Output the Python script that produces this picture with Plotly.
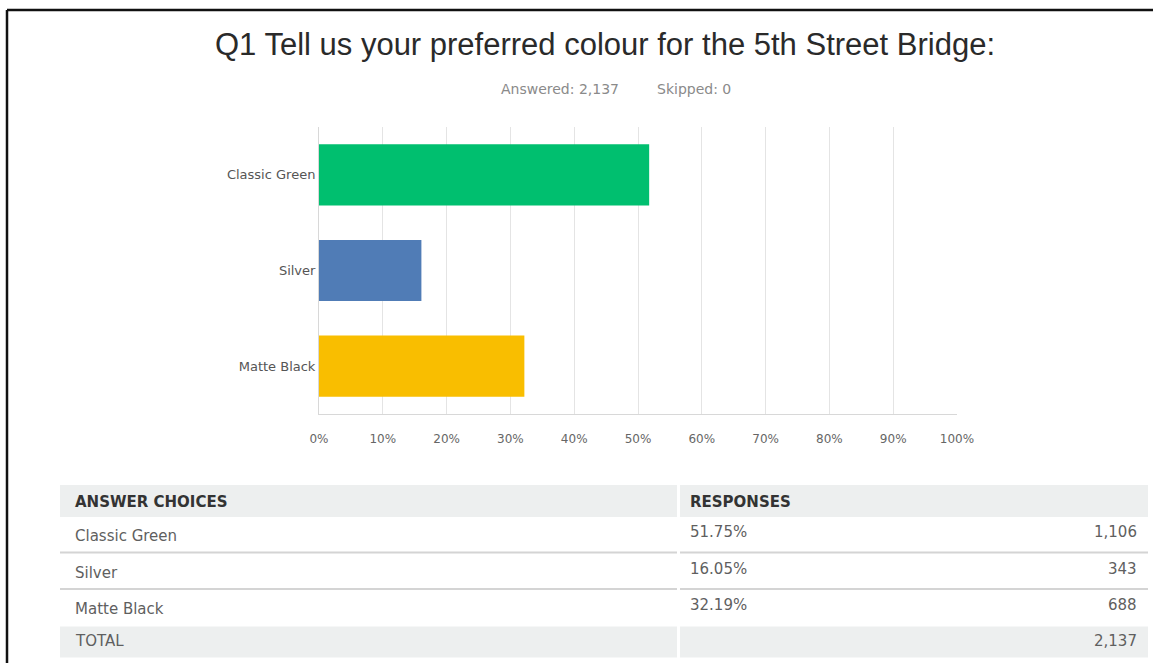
import plotly.graph_objects as go

# ---------------- data ----------------
title_text = "Q1 Tell us your preferred colour for the 5th Street Bridge:"
answered = 2137
skipped = 0
choices = ["Classic Green", "Silver", "Matte Black"]
percents = [51.75, 16.05, 32.19]
counts = [1106, 343, 688]
total = 2137
bar_colors = ["#00bf6f", "#507cb6", "#f9be00"]
x_ticks = [0, 10, 20, 30, 40, 50, 60, 70, 80, 90, 100]
x_tick_labels = [f"{v}%" for v in x_ticks]
table_headers = ["ANSWER CHOICES", "RESPONSES"]
total_label = "TOTAL"

# ---------------- geometry helpers (pixels -> paper) ----------------
W, H = 1153, 663


def px(x):
    return x / W


def py(y):
    return 1 - y / H


FONT = "Liberation Sans, Arial, sans-serif"
SMALL = "DejaVu Sans, sans-serif"

fig = go.Figure(
    go.Bar(
        x=percents,
        y=choices,
        orientation="h",
        width=0.64,
        marker=dict(color=bar_colors, line=dict(width=0)),
        hovertemplate="%{y}: %{x:.2f}%<extra></extra>",
    )
)

fig.update_layout(
    width=W,
    height=H,
    autosize=False,
    margin=dict(l=0, r=0, t=0, b=0),
    paper_bgcolor="white",
    plot_bgcolor="white",
    showlegend=False,
    xaxis=dict(
        domain=[px(319), px(957)],
        range=[0, 100],
        tickmode="array",
        tickvals=x_ticks,
        ticktext=x_tick_labels,
        showgrid=True,
        gridcolor="#e4e4e4",
        gridwidth=1,
        zeroline=False,
        showline=True,
        linecolor="#d8d8d8",
        linewidth=1,
        ticks="",
        ticklabelstandoff=14,
        tickfont=dict(family=SMALL, size=12, color="#666666"),
        automargin=False,
        fixedrange=True,
    ),
    yaxis=dict(
        domain=[py(414), py(127)],
        categoryorder="array",
        categoryarray=choices,
        range=[2.5, -0.5],
        showgrid=False,
        zeroline=False,
        showline=True,
        linecolor="#d8d8d8",
        linewidth=1,
        ticks="",
        ticklabelstandoff=0,
        tickfont=dict(family=SMALL, size=13, color="#555555"),
        automargin=False,
        fixedrange=True,
    ),
)

annotations = []
shapes = []

# title and subtitle
annotations.append(dict(
    text=title_text, x=px(605), y=py(45), xref="paper", yref="paper",
    xanchor="center", yanchor="middle", showarrow=False,
    font=dict(family=FONT, size=31, color="#2a2a2a"),
))
annotations.append(dict(
    text=f"Answered: {answered:,}", x=px(560), y=py(89), xref="paper", yref="paper",
    xanchor="center", yanchor="middle", showarrow=False,
    font=dict(family=SMALL, size=14, color="#8a8a8a"),
))
annotations.append(dict(
    text=f"Skipped: {skipped}", x=px(694), y=py(89), xref="paper", yref="paper",
    xanchor="center", yanchor="middle", showarrow=False,
    font=dict(family=SMALL, size=14, color="#8a8a8a"),
))

# ---------------- table ----------------
T_LEFT, T_SPLIT_L, T_SPLIT_R, T_RIGHT = 60, 677, 680, 1148
HEAD_TOP, HEAD_H, ROW_H, TOTAL_H = 485, 32, 36.5, 31
GRAY = "#edefef"
TXT = "#5f5f5f"
TSIZE = 15


def rect(x0, y0, x1, y1, color):
    return dict(type="rect", xref="paper", yref="paper",
                x0=px(x0), x1=px(x1), y0=py(y1), y1=py(y0),
                fillcolor=color, line=dict(width=0), layer="below")


def hline(y, color, width):
    out = []
    for a, b in [(T_LEFT, T_SPLIT_L), (T_SPLIT_R, T_RIGHT)]:
        out.append(dict(type="line", xref="paper", yref="paper",
                        x0=px(a), x1=px(b), y0=py(y), y1=py(y),
                        line=dict(color=color, width=width)))
    return out


# header
shapes.append(rect(T_LEFT, HEAD_TOP, T_SPLIT_L, HEAD_TOP + HEAD_H, GRAY))
shapes.append(rect(T_SPLIT_R, HEAD_TOP, T_RIGHT, HEAD_TOP + HEAD_H, GRAY))
for txt, xx in zip(table_headers, [73, 688]):
    annotations.append(dict(
        text=f"<b>{txt}</b>", x=px(xx), y=py(HEAD_TOP + HEAD_H / 2 + 0.5),
        xref="paper", yref="paper", xanchor="left", yanchor="middle",
        showarrow=False, font=dict(family=SMALL, size=TSIZE, color="#333333"),
    ))

# data rows
body_top = HEAD_TOP + HEAD_H
for i, (name, pct, cnt) in enumerate(zip(choices, percents, counts)):
    top = body_top + i * ROW_H
    annotations.append(dict(
        text=name, x=px(73), y=py(top + 19), xref="paper", yref="paper",
        xanchor="left", yanchor="middle", showarrow=False,
        font=dict(family=SMALL, size=TSIZE, color=TXT),
    ))
    annotations.append(dict(
        text=f"{pct:.2f}%", x=px(688), y=py(top + 15), xref="paper", yref="paper",
        xanchor="left", yanchor="middle", showarrow=False,
        font=dict(family=SMALL, size=TSIZE, color=TXT),
    ))
    annotations.append(dict(
        text=f"{cnt:,}", x=px(1139), y=py(top + 15), xref="paper", yref="paper",
        xanchor="right", yanchor="middle", showarrow=False,
        font=dict(family=SMALL, size=TSIZE, color=TXT),
    ))
    if i < len(choices) - 1:
        shapes.extend(hline(top + ROW_H - 1, "#d4d4d4", 2))

# total row
total_top = body_top + len(choices) * ROW_H
shapes.append(rect(T_LEFT, total_top, T_SPLIT_L, total_top + TOTAL_H, GRAY))
shapes.append(rect(T_SPLIT_R, total_top, T_RIGHT, total_top + TOTAL_H, GRAY))
annotations.append(dict(
    text=total_label, x=px(73), y=py(total_top + 14), xref="paper", yref="paper",
    xanchor="left", yanchor="middle", showarrow=False,
    font=dict(family=SMALL, size=TSIZE, color=TXT),
))
annotations.append(dict(
    text=f"{total:,}", x=px(1139), y=py(total_top + 14), xref="paper", yref="paper",
    xanchor="right", yanchor="middle", showarrow=False,
    font=dict(family=SMALL, size=TSIZE, color=TXT),
))

# outer frame (top and left edges visible in the screenshot)
shapes.append(dict(type="line", xref="paper", yref="paper",
                   x0=px(7), x1=1, y0=py(10), y1=py(10),
                   line=dict(color="#111111", width=2.5)))
shapes.append(dict(type="line", xref="paper", yref="paper",
                   x0=px(7), x1=px(7), y0=py(10), y1=0,
                   line=dict(color="#111111", width=2.5)))

fig.update_layout(annotations=annotations, shapes=shapes)

fig.write_html(
    "out.html",
    config={"responsive": False, "displayModeBar": False},
    post_script="document.body.style.margin='0';document.body.style.overflow='hidden';",
)
